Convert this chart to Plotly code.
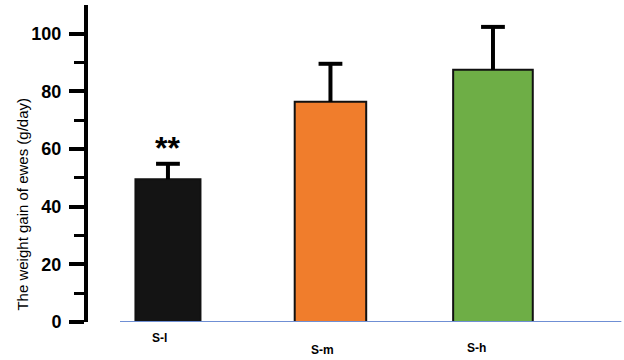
import plotly.graph_objects as go

categories = ["S-l", "S-m", "S-h"]
means = [49.5, 76.4, 87.5]
errors = [5.4, 13.2, 14.9]
y_ticks = [0, 20, 40, 60, 80, 100]
significance = ["**", "", ""]

bar_colors = ["#141414", "#f07d2c", "#6eae46"]
bar_widths = [0.40, 0.44, 0.49]
label_xshift = [-8, -8, -16]
label_yshift = [-16, -28, -26]

FONT = "Arial, Liberation Sans, sans-serif"
xpos = list(range(len(categories)))
tops = [m + e for m, e in zip(means, errors)]

fig = go.Figure()
fig.add_trace(go.Bar(
    x=xpos, y=means, width=bar_widths,
    marker=dict(color=bar_colors, line=dict(color="#111111", width=2)),
    error_y=dict(type="data", array=errors, arrayminus=[0] * len(errors),
                 symmetric=False, color="#000000", thickness=4, width=0),
    showlegend=False,
))
# error-bar caps (top only)
fig.add_trace(go.Scatter(
    x=xpos, y=tops, mode="markers", showlegend=False, hoverinfo="skip",
    marker=dict(symbol="line-ew", size=17, line=dict(color="#000000", width=4)),
))

# baseline (blue line at y=0)
fig.add_shape(type="line", xref="x", yref="y", x0=-0.295, x1=2.79, y0=0, y1=0,
              line=dict(color="#6f8fd4", width=2), layer="above")

annotations = []
for i, (c, s) in enumerate(zip(categories, significance)):
    annotations.append(dict(x=xpos[i], y=0, xref="x", yref="y", text="<b>" + c + "</b>",
                            showarrow=False, xshift=label_xshift[i], yshift=label_yshift[i],
                            font=dict(family=FONT, size=12, color="#000000")))
    if s:
        annotations.append(dict(x=xpos[i], y=tops[i], xref="x", yref="y",
                                text="<b>" + s + "</b>", showarrow=False, yanchor="bottom",
                                yshift=-4, font=dict(family=FONT, size=32, color="#000000")))
annotations.append(dict(x=0, y=0.372, xref="paper", yref="paper", xshift=-76,
                        text="The weight gain of ewes (g/day)", textangle=-90,
                        showarrow=False, font=dict(family=FONT, size=15, color="#000000")))

fig.update_layout(
    width=624, height=360,
    margin=dict(l=88, r=2, t=5, b=38),
    paper_bgcolor="white", plot_bgcolor="white",
    annotations=annotations,
    xaxis=dict(range=[-0.492, 2.794], showticklabels=False, showgrid=False,
               zeroline=False, showline=False, ticks=""),
    yaxis=dict(range=[0, 110], tickvals=y_ticks, showgrid=False, zeroline=False,
               showline=True, linecolor="#000000", linewidth=4,
               ticks="outside", ticklen=15, tickwidth=3.5, tickcolor="#000000",
               minor=dict(tickvals=[10, 30, 50, 70, 90], ticks="outside", ticklen=10,
                          tickwidth=3, tickcolor="#000000"),
               ticklabelstandoff=4,
               tickfont=dict(family=FONT, size=18, color="#000000", weight="bold")),
)

fig.write_html("out.html", config={"displayModeBar": False},
               post_script="document.body.style.margin='0';")
